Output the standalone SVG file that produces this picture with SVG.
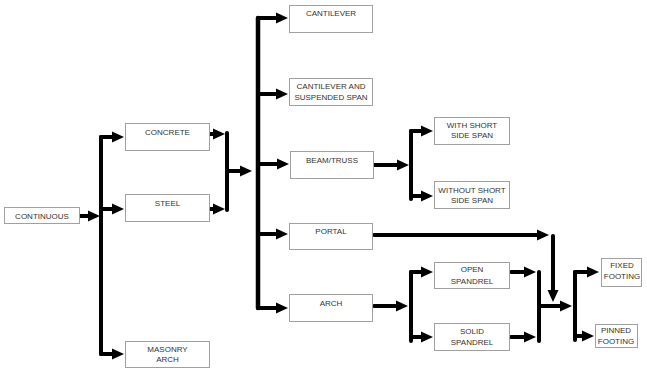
<svg xmlns="http://www.w3.org/2000/svg" width="647" height="368" viewBox="0 0 647 368">
<defs>
<style>
.box{fill:#fff;stroke:#a0a0a0;stroke-width:1}
text{font-family:"Liberation Sans",Arial,sans-serif;font-size:8px;fill:#333;text-anchor:middle}
.c line{stroke:#000;stroke-width:4;stroke-linecap:round}
.c line.a{marker-end:url(#ah)}
</style>
<marker id="ah" markerUnits="userSpaceOnUse" markerWidth="12" markerHeight="12" viewBox="0 0 12 12" refX="1" refY="6" orient="auto">
<path d="M0,0.5 L12,6 L0,11.5 z" fill="#000"/>
</marker>
</defs>
<rect width="647" height="368" fill="#fff"/>
<g class="c" id="connectors">
<line class="a" x1="80" y1="216" x2="89" y2="216"/>
<line x1="101" y1="137" x2="101" y2="354"/>
<line class="a" x1="101" y1="137" x2="113" y2="137"/>
<line class="a" x1="101" y1="209" x2="113" y2="209"/>
<line class="a" x1="101" y1="354" x2="113" y2="354"/>
<line class="a" x1="210" y1="134" x2="214" y2="134"/>
<line class="a" x1="210" y1="209" x2="214" y2="209"/>
<line x1="227" y1="133" x2="227" y2="210"/>
<line class="a" x1="227" y1="171" x2="241" y2="171"/>
<line x1="258" y1="18" x2="258" y2="308" style="stroke-width:4.5"/>
<line class="a" x1="258" y1="18" x2="277" y2="18"/>
<line class="a" x1="258" y1="94" x2="277" y2="94"/>
<line class="a" x1="258" y1="164" x2="278" y2="164"/>
<line class="a" x1="258" y1="234" x2="277" y2="234"/>
<line class="a" x1="258" y1="308" x2="277" y2="308"/>
<line class="a" x1="374" y1="165" x2="398" y2="165"/>
<line x1="411" y1="131" x2="411" y2="199"/>
<line class="a" x1="411" y1="131" x2="422" y2="131"/>
<line class="a" x1="411" y1="196" x2="422" y2="196"/>
<line class="a" x1="374" y1="235" x2="538" y2="235"/>
<line class="a" x1="553" y1="236" x2="553" y2="291"/>
<line class="a" x1="374" y1="306" x2="397" y2="306"/>
<line x1="411" y1="272" x2="411" y2="341"/>
<line class="a" x1="411" y1="272" x2="422" y2="272"/>
<line class="a" x1="411" y1="337" x2="422" y2="337"/>
<line class="a" x1="511" y1="272" x2="525" y2="272"/>
<line class="a" x1="511" y1="337" x2="525" y2="337"/>
<line x1="539" y1="272" x2="539" y2="341"/>
<line class="a" x1="539" y1="306" x2="561" y2="306"/>
<line x1="575" y1="272" x2="575" y2="340"/>
<line class="a" x1="575" y1="272" x2="588" y2="272"/>
<line class="a" x1="575" y1="336" x2="583" y2="336"/>
</g>
<g id="continuous"><rect class="box" x="4.5" y="207.5" width="75" height="16"/><text x="42" y="218.5">CONTINUOUS</text></g>
<g id="concrete"><rect class="box" x="125.5" y="123.5" width="84" height="27"/><text x="167.5" y="135">CONCRETE</text></g>
<g id="steel"><rect class="box" x="125.5" y="194.5" width="84" height="27"/><text x="167.5" y="205.5">STEEL</text></g>
<g id="masonry-arch"><rect class="box" x="125.5" y="341.5" width="84" height="26"/><text x="167.5" y="352">MASONRY</text><text x="167.5" y="362.3">ARCH</text></g>
<g id="cantilever"><rect class="box" x="289.5" y="5.5" width="83" height="27"/><text x="331" y="16">CANTILEVER</text></g>
<g id="cantilever-suspended"><rect class="box" x="289.5" y="78.5" width="83" height="27"/><text x="331" y="89">CANTILEVER AND</text><text x="331" y="99.5">SUSPENDED SPAN</text></g>
<g id="beam-truss"><rect class="box" x="290.5" y="151.5" width="83" height="27"/><text x="332" y="162.7">BEAM/TRUSS</text></g>
<g id="portal"><rect class="box" x="289.5" y="223.5" width="83" height="26"/><text x="331" y="233.5">PORTAL</text></g>
<g id="arch"><rect class="box" x="289.5" y="294.5" width="83" height="27"/><text x="331" y="306">ARCH</text></g>
<g id="with-short"><rect class="box" x="434.5" y="117.5" width="75" height="27"/><text x="472" y="127.7">WITH SHORT</text><text x="472" y="138.3">SIDE SPAN</text></g>
<g id="without-short"><rect class="box" x="434.5" y="181.5" width="75" height="27"/><text x="472" y="192.8">WITHOUT SHORT</text><text x="472" y="203.3">SIDE SPAN</text></g>
<g id="open-spandrel"><rect class="box" x="434.5" y="262.5" width="75" height="26"/><text x="472" y="272.3">OPEN</text><text x="472" y="283.5">SPANDREL</text></g>
<g id="solid-spandrel"><rect class="box" x="434.5" y="323.5" width="75" height="27"/><text x="472" y="334.3">SOLID</text><text x="472" y="344.5">SPANDREL</text></g>
<g id="fixed-footing"><rect class="box" x="601.5" y="258.5" width="40" height="28"/><text x="622" y="268.3">FIXED</text><text x="622" y="279.3">FOOTING</text></g>
<g id="pinned-footing"><rect class="box" x="595.5" y="324.5" width="42" height="23"/><text x="616" y="333.3">PINNED</text><text x="616" y="343.5">FOOTING</text></g>
</svg>
